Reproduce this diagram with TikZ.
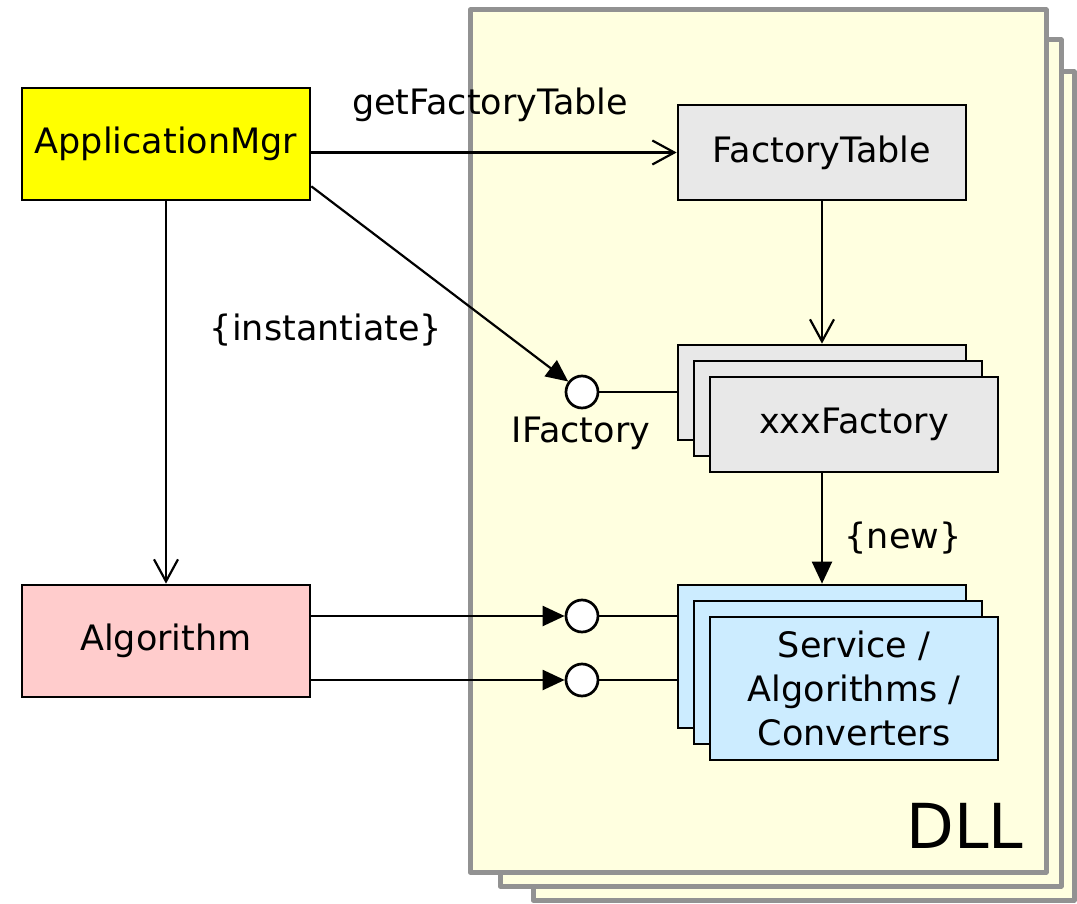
\documentclass[tikz,border=0pt]{standalone}
\usepackage{fontspec}
\setmainfont{DejaVu Sans}
\usetikzlibrary{arrows.meta}
\definecolor{dllfill}{HTML}{FFFFE0}
\definecolor{dllline}{HTML}{929292}
\definecolor{mgrfill}{HTML}{FFFF00}
\definecolor{algfill}{HTML}{FFCCCC}
\definecolor{facfill}{HTML}{E8E8E8}
\definecolor{svcfill}{HTML}{CCECFF}
\begin{document}
\begin{tikzpicture}[x=1pt,y=-1pt,
  dllframe/.style={draw=dllline,fill=dllfill,line width=5pt,line join=round},
  box/.style={draw,line width=2.7pt,inner sep=0pt,minimum width=288pt,
    align=center,font=\fontsize{35}{44}\selectfont},
  lbl/.style={inner sep=0pt,font=\fontsize{35}{40}\selectfont},
  lolly/.style={circle,draw,fill=white,line width=2.7pt,minimum size=32pt,inner sep=0pt},
  conn/.style={line width=2.2pt},
  openarr/.style={conn,-{Straight Barb[length=22pt,width=24pt,line width=2.2pt]}},
  fillarr/.style={conn,-{Triangle[length=22pt,width=20pt]}}]
\useasboundingbox (0,0) rectangle (1077,904);

% DLL stack
\draw[dllframe] (533,72) rectangle (1074,900);
\draw[dllframe] (500,40) rectangle (1061,886);
\draw[dllframe] (470,10) rectangle (1046,872);
\node[inner sep=0pt,font=\fontsize{62}{70}\selectfont] (dll) at (965,826) {DLL};

% client side
\node[box,fill=mgrfill,minimum height=112pt] (am) at (166,144) {ApplicationMgr};
\node[box,fill=algfill,minimum height=112pt] (alg) at (166,641) {Algorithm};

% factory table
\node[box,fill=facfill,minimum height=95pt] (ft) at (822,152.5) {FactoryTable};

% factories
\node[box,fill=facfill,minimum height=95pt] (xb) at (822,392.5) {};
\node[box,fill=facfill,minimum height=95pt] (xm) at (838,408.5) {};
\node[box,fill=facfill,minimum height=95pt] (xf) at (854,424.5) {xxxFactory};

% services
\node[box,fill=svcfill,minimum height=143pt] (sb) at (822,656.5) {};
\node[box,fill=svcfill,minimum height=143pt] (sm) at (838,672.5) {};
\node[box,fill=svcfill,minimum height=143pt] (sf) at (854,688.5) {Service /\\Algorithms /\\Converters};

% interfaces
\node[lolly] (ifac) at (582,392) {};
\node[lolly] (is1) at (582,616) {};
\node[lolly] (is2) at (582,680) {};
\draw[conn] (ifac) -- (ifac -| xb.west);
\draw[conn] (is1) -- (is1 -| sb.west);
\draw[conn] (is2) -- (is2 -| sb.west);

% labels
\node[lbl] (lgft) at (490,105) {getFactoryTable};
\node[lbl] (linst) at (326,330) {\{instantiate\}};
\node[lbl] (lifac) at (581,433) {IFactory};
\node[lbl] (lnew) at (903,538) {\{new\}};

% connectors
\draw[openarr] (am.east |- ft.west) -- (ft.west);
\draw[openarr] (am.south) -- (alg.north);
\draw[openarr] (ft.south) -- (xb.north);
\draw[fillarr] ([yshift=15pt]am.south east) -- (ifac);
\draw[fillarr] (xb.center |- xf.south) -- (sb.north);
\draw[fillarr] (alg.east |- is1) -- (is1);
\draw[fillarr] (alg.east |- is2) -- (is2);
\end{tikzpicture}
\end{document}
